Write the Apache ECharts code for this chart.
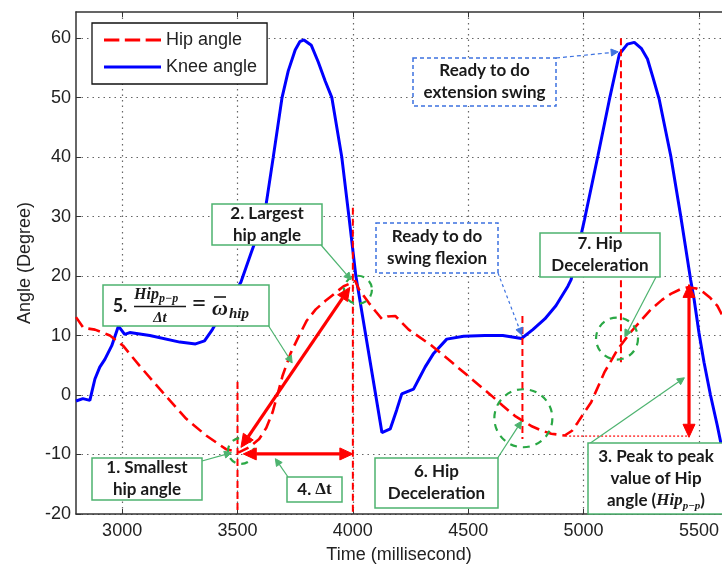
<!DOCTYPE html>
<html><head><meta charset="utf-8">
<script src="https://cdn.jsdelivr.net/npm/echarts@6/dist/echarts.min.js"></script>
<style>html,body{margin:0;padding:0;background:#fff}#c{width:722px;height:569px}</style>
</head><body><div id="c"></div>
<script>
// ---- data ----
const xTicks = [3000, 3500, 4000, 4500, 5000, 5500];
const yTicks = [-20, -10, 0, 10, 20, 30, 40, 50, 60];
const seriesNames = ['Hip angle', 'Knee angle'];

const hipTime  = [2800,2832,2882,2947,3004,3076,3177,3278,3364,3450,3508,3550,3594,3625,3652,3675,3695,3730,3767,3800,3839,3880,3925,3960,3997,4010,4026,4069,4100,4126,4150,4184,4242,4342,4429,4515,4601,4650,4702,4773,4820,4860,4918,4950,4975,5033,5090,5148,5205,5250,5292,5340,5378,5420,5450,5490,5522,5550,5580,5600];
const hipAngle = [13.1,11.3,11.0,10.0,8.3,4.9,0.4,-4.0,-6.8,-9.1,-9.6,-8.8,-7.4,-5.5,-2.9,0.3,3.2,7.0,10.0,12.5,14.4,15.8,17.2,18.3,18.9,19.2,17.8,15.5,14.0,12.8,13.2,13.3,11.0,8.3,5.5,2.7,-0.1,-1.8,-3.5,-5.2,-6.0,-6.5,-6.8,-6.0,-4.6,-1.2,3.8,7.7,10.6,12.6,14.4,16.0,17.0,17.8,18.1,17.9,17.2,16.3,15.0,13.5];

const kneeTime  = [2800,2830,2860,2882,2903,2925,2955,2984,3011,3033,3120,3250,3318,3357,3391,3421,3470,3515,3560,3616,3655,3693,3720,3750,3770,3788,3820,3850,3880,3909,3952,3983,4013,4056,4099,4126,4162,4190,4212,4263,4290,4313,4350,4407,4480,4572,4650,4731,4780,4832,4880,4932,4946,5004,5062,5112,5155,5190,5220,5250,5277,5300,5328,5378,5421,5464,5479,5500,5522,5550,5580,5600];
const kneeAngle = [-1.0,-0.6,-0.9,2.7,4.7,6.0,8.3,11.6,10.2,10.5,10.0,8.9,8.6,9.1,11.0,13.0,16.0,19.0,24.0,30.0,40.0,50.0,54.5,58.0,59.4,59.7,58.8,56.0,52.8,50.0,40.0,30.0,20.0,10.0,0.0,-6.3,-5.7,-2.5,0.2,1.0,3.0,4.7,7.0,9.4,9.9,10.0,10.0,9.5,11.0,12.8,15.0,18.3,19.4,29.5,40.2,49.7,57.3,59.0,59.3,58.3,56.5,53.5,49.7,40.2,30.1,19.4,16.1,10.5,5.5,0.0,-5.2,-9.0];

// ---- styles ----
const RED = '#ff0000', BLUE = '#0000ff', GREEN = '#4db36f', GREEN_C = '#2aa845', BLUE_B = '#3d72e0';
const AX = 'Liberation Sans, Arial, sans-serif';
const BOXF = 'Lato, Carlito, sans-serif';
const SERIF = 'Liberation Serif, Times New Roman, serif';

const chart = echarts.init(document.getElementById('c'), null, {renderer: 'canvas'});
const gridStyle = {show: true, lineStyle: {color: '#666', width: 1.2, type: [1.5, 4]}};
const plainNum = v => String(v);
const option = {
  animation: false,
  backgroundColor: '#fff',
  grid: {left: 76, top: 12, right: -3, bottom: 55, containLabel: false},
  legend: {
    data: [
      {name: seriesNames[0], icon: 'path://M0,0h14v3h-14z M19,0h14v3h-14z M38,0h14v3h-14z'},
      {name: seriesNames[1], icon: 'path://M0,0h52v3h-52z'}
    ],
    orient: 'vertical', left: 92, top: 23, symbolKeepAspect: false,
    padding: [7, 10, 7, 12], itemGap: 7, itemWidth: 57, itemHeight: 3,
    borderColor: '#111', borderWidth: 1.3, backgroundColor: '#fff',
    textStyle: {fontFamily: AX, fontSize: 18, color: '#222', lineHeight: 20},
    selectedMode: false, z: 20
  },
  xAxis: [{
    type: 'value', min: 2800, max: 5600,
    name: 'Time (millisecond)', nameLocation: 'middle', nameGap: 32,
    nameTextStyle: {fontFamily: AX, fontSize: 18, color: '#222'},
    axisLine: {show: true, onZero: false, lineStyle: {color: '#333', width: 1.5}},
    axisTick: {show: true, inside: true, length: 5, customValues: xTicks, lineStyle: {color: '#333'}},
    axisLabel: {show: true, customValues: xTicks, formatter: plainNum, margin: 8, fontFamily: AX, fontSize: 18, color: '#222'},
    splitLine: gridStyle
  }, {
    type: 'value', min: 2800, max: 5600, position: 'top',
    axisLine: {show: true, onZero: false, lineStyle: {color: '#333', width: 1.5}},
    axisTick: {show: true, inside: true, length: 5, customValues: xTicks, lineStyle: {color: '#333'}},
    axisLabel: {show: false}, splitLine: {show: false}
  }],
  yAxis: [{
    type: 'value', min: -20, max: 64.4,
    name: 'Angle (Degree)', nameLocation: 'middle', nameGap: 42, nameRotate: 90,
    nameTextStyle: {fontFamily: AX, fontSize: 18, color: '#222'},
    axisLine: {show: true, onZero: false, lineStyle: {color: '#333', width: 1.5}},
    axisTick: {show: true, inside: true, length: 5, customValues: yTicks, lineStyle: {color: '#333'}},
    axisLabel: {show: true, customValues: yTicks, formatter: plainNum, margin: 5, fontFamily: AX, fontSize: 18, color: '#222'},
    splitLine: gridStyle
  }],
  series: [{
    name: seriesNames[0], type: 'line', symbol: 'none', z: 3,
    data: hipTime.map((t, i) => [t, hipAngle[i]]),
    lineStyle: {color: RED, width: 2.6, type: [12, 6]}, itemStyle: {color: RED}
  }, {
    name: seriesNames[1], type: 'line', symbol: 'none', z: 2,
    data: kneeTime.map((t, i) => [t, kneeAngle[i]]),
    lineStyle: {color: BLUE, width: 3}, itemStyle: {color: BLUE}
  }]
};
chart.setOption(option);

// ---- annotations (anchored in data coordinates where they touch the curves) ----
const P = (t, v) => chart.convertToPixel({seriesIndex: 0}, [t, v]);
const G = [];
let zc = 10;
function seg(a, b, color, w, dash) {
  G.push({type: 'line', silent: true, z: zc, shape: {x1: a[0], y1: a[1], x2: b[0], y2: b[1]},
    style: {stroke: color, lineWidth: w, lineDash: dash || null, fill: null}});
}
function head(from, tip, color, L, W) {
  const dx = tip[0] - from[0], dy = tip[1] - from[1], d = Math.hypot(dx, dy), ux = dx / d, uy = dy / d;
  const bx = tip[0] - ux * L, by = tip[1] - uy * L;
  G.push({type: 'polygon', silent: true, z: zc + 1, shape: {points: [[tip[0], tip[1]], [bx - uy * W, by + ux * W], [bx + uy * W, by - ux * W]]},
    style: {fill: color, stroke: color, lineWidth: 1}});
  return [bx, by];
}
function arrow(a, b, color, w, L, W, both, dash) {
  const eb = head(a, b, color, L, W);
  let ea = a;
  if (both) ea = head(b, a, color, L, W);
  seg(ea, eb, color, w, dash);
}
function circ(c, r, color) {
  G.push({type: 'circle', silent: true, z: zc, shape: {cx: c[0], cy: c[1], r: r},
    style: {fill: null, stroke: color, lineWidth: 2.2, lineDash: [7, 6]}});
}
function box(x, y, w, h, color, dash) {
  G.push({type: 'rect', silent: true, z: zc, shape: {x: x, y: y, width: w, height: h},
    style: {fill: '#fff', stroke: color, lineWidth: 1.5, lineDash: dash || null}});
}
function txt(x, y, s, opts) {
  G.push(Object.assign({type: 'text', silent: true, z: zc + 2, x: x, y: y,
    style: Object.assign({text: s, fill: '#1a1a1a', font: 'bold 17px ' + BOXF, textAlign: 'center', textVerticalAlign: 'middle'}, opts || {})}));
}
function lines(x, y, w, h, arr) {
  const cx = x + w / 2, cy = y + h / 2, lh = 22;
  arr.forEach((s, i) => txt(cx, cy + (i - (arr.length - 1) / 2) * lh, s));
}

// red dashed guide lines
zc = 8;
seg(P(3500, 2.2), P(3500, -20), RED, 2, [7, 4]);
seg(P(4000, 31.5), P(4000, -20), RED, 2, [7, 4]);
seg(P(4735, 13.3), P(4735, -7.4), RED, 2, [7, 4]);
seg(P(5162, 60), P(5162, 5.5), RED, 2, [7, 4]);
seg(P(4920, -6.9), P(5457, -6.9), RED, 1.2, [2, 2]);

// thick red arrows
zc = 9;
arrow(P(3515, -8.8), P(3987, 18.1), RED, 3.2, 13, 6, true);
arrow(P(3525, -9.9), P(4000, -9.9), RED, 3.2, 13, 6, true);
arrow(P(5457, 18.6), P(5457, -7.1), RED, 3.2, 13, 6, true);

// green dashed circles
circ(P(3515, -9.4), 13, GREEN_C);
circ(P(4022, 17.7), 14, GREEN_C);
circ(P(4739, -3.9), 29, GREEN_C);
circ(P(5145, 9.5), 21, GREEN_C);

// green connector arrows
zc = 12;
arrow([202, 461], P(3474, -9.7), GREEN, 1.2, 7, 3.5);
arrow([288, 477], P(3664, -10.7), GREEN, 1.2, 7, 3.5);
arrow([268, 325], P(3737, 5.4), GREEN, 1.2, 7, 3.5);
arrow([321, 245], P(3992, 19.4), GREEN, 1.2, 7, 3.5);
arrow([497, 459], P(4731, -4.4), GREEN, 1.2, 7, 3.5);
arrow([589, 444], P(5437, 2.9), GREEN, 1.2, 7, 3.5);
arrow([656, 277], P(5179, 9.8), GREEN, 1.2, 7, 3.5);
// blue dashed connector arrows
arrow([556, 58], P(5150, 57.7), BLUE_B, 1.2, 7, 3.5, false, [4, 3]);
arrow([498, 273], P(4732, 10.1), BLUE_B, 1.2, 7, 3.5, false, [3, 3]);

// boxes
zc = 14;
box(92, 458, 110, 42, GREEN); lines(92, 458, 110, 42, ['1. Smallest', 'hip angle']);
box(212, 204, 110, 41, GREEN); lines(212, 204, 110, 41, ['2. Largest', 'hip angle']);
box(375, 458, 123, 50, GREEN); lines(375, 458, 123, 50, ['6. Hip', 'Deceleration']);
box(540, 233, 120, 44, GREEN); lines(540, 233, 120, 44, ['7. Hip', 'Deceleration']);
box(287, 477, 55, 25, GREEN);
txt(314.5, 490, '{a|4. }{b|Δt}', {rich: {a: {font: 'bold 17px ' + BOXF, fill: '#1a1a1a'}, b: {font: 'bold 17px ' + SERIF, fill: '#1a1a1a'}}});
box(588, 443, 140, 71, GREEN);
txt(656, 456.5, '3. Peak to peak');
txt(656, 478.5, 'value of Hip');
txt(656, 500.5, '{a|angle (}{m|Hip}{s|p−p}{a|)}', {rich: {
  a: {font: 'bold 17px ' + BOXF, fill: '#1a1a1a', lineHeight: 22},
  m: {font: 'italic bold 17px ' + SERIF, fill: '#1a1a1a', lineHeight: 22},
  s: {font: 'italic bold 11px ' + SERIF, fill: '#1a1a1a', lineHeight: 12, verticalAlign: 'bottom'}}});
box(413, 58, 143, 48, BLUE_B, [4, 3]); lines(413, 58, 143, 48, ['Ready to do', 'extension swing']);
box(376, 223, 122, 50, BLUE_B, [4, 3]); lines(376, 223, 122, 50, ['Ready to do', 'swing flexion']);

// formula box
box(103, 285, 166, 41, GREEN);
txt(120, 306, '5.', {font: 'bold 18px ' + BOXF});
txt(134, 295, 'Hip', {font: 'italic bold 16px ' + SERIF, textAlign: 'left'});
txt(159, 299, 'p−p', {font: 'italic bold 12px ' + SERIF, textAlign: 'left'});
G.push({type: 'line', silent: true, z: zc + 2, shape: {x1: 134, y1: 306.5, x2: 186, y2: 306.5}, style: {stroke: '#1a1a1a', lineWidth: 1.4}});
txt(160, 318, 'Δt', {font: 'italic bold 15px ' + SERIF});
txt(199, 305, '=', {font: 'bold 24px ' + SERIF});
txt(220, 309, 'ω', {font: 'italic bold 22px ' + SERIF});
G.push({type: 'line', silent: true, z: zc + 2, shape: {x1: 214, y1: 297, x2: 226, y2: 297}, style: {stroke: '#1a1a1a', lineWidth: 1.6}});
txt(229, 314, 'hip', {font: 'italic bold 15px ' + SERIF, textAlign: 'left'});

chart.setOption({graphic: {elements: G}});
</script></body></html>
